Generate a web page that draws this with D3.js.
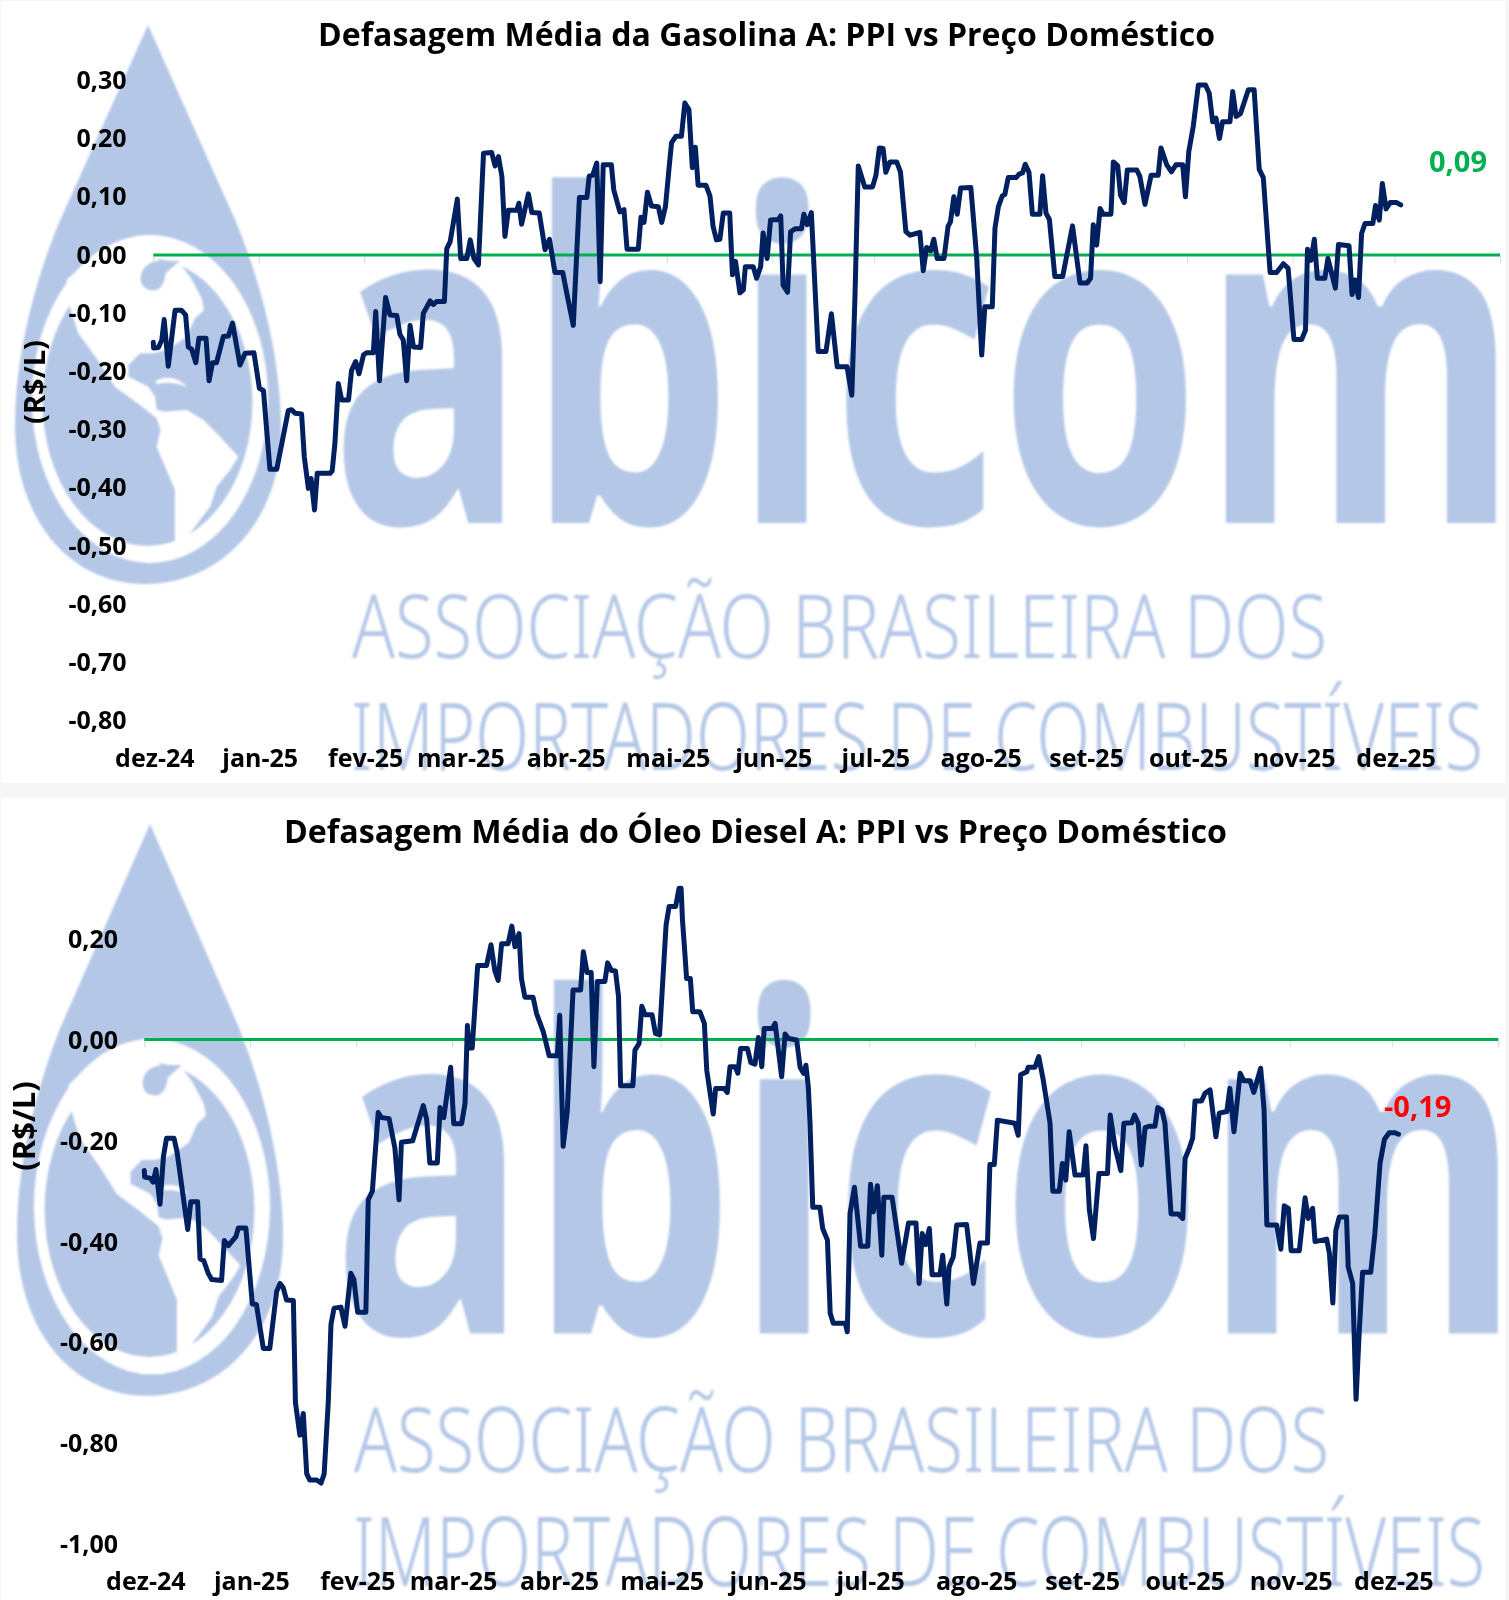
<!DOCTYPE html>
<html><head><meta charset="utf-8">
<script src="https://cdn.jsdelivr.net/npm/d3@7/dist/d3.min.js"></script>
<style>
html,body{margin:0;padding:0;background:#f6f6f6;}
svg{display:block;}
text{font-family:"Open Sans",sans-serif;font-weight:700;fill:#000;}
</style></head><body>
<svg id="c" width="1509" height="1600"></svg>
<script>
const monthLabels=["dez-24","jan-25","fev-25","mar-25","abr-25","mai-25","jun-25","jul-25","ago-25","set-25","out-25","nov-25","dez-25"];
const gasYTicks=[0.3,0.2,0.1,0,-0.1,-0.2,-0.3,-0.4,-0.5,-0.6,-0.7,-0.8];
const dieselYTicks=[0.2,0,-0.2,-0.4,-0.6,-0.8,-1.0];

// Days since 1 Dec 2024, and R$/L
const gasDays=[0,0.1,1.5,2.5,3.2,4.4,6.4,8.3,9.5,10.3,11.3,12.5,13.4,15.5,16.4,17.4,18.6,20.6,22.1,23.3,25.5,27,29.6,31.2,32.4,33.1,34.3,36.3,39.7,40.7,41.7,43.6,44.4,45.6,46.4,47.4,48.2,52,52.6,53.4,54.4,55.4,57.4,58.3,59.5,60.5,61.8,62.7,64.7,65.4,66.5,68.3,69.6,71.6,72.5,73.5,74.5,75.5,76.5,78.6,79.4,81.4,82.4,83.3,85.6,86.3,87.3,89.4,90.4,92.2,93.2,94.3,95.6,97.1,99.5,100.5,101.5,102.5,103.4,104.4,106.9,107.5,108.3,110.3,111.3,113.5,115.2,116.5,118.1,120.4,121.6,123.5,125.3,127.5,128.2,129.2,130.4,131.4,
132.3,134.7,135.4,137.2,138.4,139.3,142.6,143.4,144.3,145.3,146.5,148.5,149.5,150.6,151.7,152.4,153.7,155.3,156.3,157.5,158.5,159.4,160.2,162.5,163.7,164.6,165.6,166.6,167.6,169.5,170.3,171.2,172.5,173.5,174.1,176.4,177.4,178.6,179.3,180.5,181.5,183.8,184.5,185.2,186.5,187.4,188.7,190.6,191.3,192.3,193.5,195.5,197.8,199.4,201.1,204,205.4,206.3,207.3,209.2,211.5,212.5,213.5,214.6,215.4,216.6,218.6,219.7,221.3,222.5,225.4,226.4,227.4,228.6,229.5,230.5,232.5,233.7,234.4,235.4,236.4,237.4,240.4,242.1,243.6,244.5,246.7,247.5,248.5,249.6,250.4,251.4,253.7,254.6,255.6,256.4,257.5,258.5,260.7,261.5,262.5,263.5,
265.1,267.4,270.3,272.5,274.6,275.6,276.4,277.4,278.4,279.3,281.6,282.3,283.6,284.4,285.5,286.4,289.2,290.1,291.6,293.4,295.5,296.3,298,299.4,300.7,302.7,303.5,304.5,305.8,307.3,309.4,310.5,311.5,312.5,313.5,314.4,316.6,317.4,318.4,319.7,322,323.7,325.2,326.4,328.4,330.3,332.3,333.7,335.4,337.7,338.8,339.4,340.4,341.4,342.3,344.5,345.4,347.6,348.5,351.6,352.5,353.4,354.4,355.3,356.3,358.6,359.4,360.5,361.4,362.5,363.7,365.6,366.8];
const gasValues=[-0.15,-0.16,-0.159,-0.146,-0.111,-0.191,-0.095,-0.095,-0.103,-0.158,-0.162,-0.185,-0.143,-0.143,-0.216,-0.185,-0.185,-0.14,-0.139,-0.117,-0.189,-0.169,-0.168,-0.229,-0.233,-0.284,-0.368,-0.368,-0.267,-0.266,-0.272,-0.273,-0.347,-0.401,-0.384,-0.438,-0.375,-0.375,-0.371,-0.324,-0.221,-0.249,-0.249,-0.198,-0.183,-0.204,-0.172,-0.168,-0.168,-0.097,-0.216,-0.073,-0.103,-0.104,-0.136,-0.146,-0.216,-0.121,-0.158,-0.159,-0.1,-0.079,-0.085,-0.08,-0.08,0.011,0.023,0.096,-0.006,-0.006,0.026,-0.006,-0.017,0.175,0.176,0.153,0.169,0.135,0.032,0.077,0.077,0.089,0.053,0.105,0.073,0.072,0.009,0.027,-0.03,-0.03,-0.066,-0.121,0.099,0.099,0.136,0.137,0.158,-0.046,
0.155,0.155,0.112,0.074,0.078,0.01,0.01,0.065,0.056,0.108,0.084,0.083,0.056,0.083,0.152,0.193,0.204,0.204,0.261,0.25,0.15,0.185,0.12,0.12,0.101,0.049,0.026,0.027,0.072,0.072,-0.034,-0.011,-0.065,-0.06,-0.02,-0.02,-0.04,-0.02,0.038,-0.006,0.06,0.061,0.067,-0.052,-0.064,0.04,0.045,0.045,0.07,0.052,0.073,-0.166,-0.166,-0.101,-0.192,-0.192,-0.241,-0.077,0.153,0.117,0.117,0.137,0.184,0.183,0.142,0.16,0.16,0.143,0.04,0.034,0.039,-0.027,0.013,0.007,0.027,-0.006,-0.006,0.049,0.057,0.1,0.07,0.115,0.116,-0.003,-0.172,-0.089,-0.089,0.046,0.083,0.101,0.104,0.133,0.133,0.139,0.141,0.156,0.142,0.07,0.07,0.136,0.072,0.061,
-0.037,-0.037,0.05,-0.048,-0.048,-0.04,0.052,0.017,0.08,0.07,0.07,0.16,0.153,0.103,0.09,0.146,0.146,0.135,0.087,0.137,0.137,0.184,0.155,0.143,0.155,0.155,0.1,0.178,0.221,0.292,0.292,0.278,0.229,0.235,0.2,0.229,0.229,0.281,0.238,0.243,0.284,0.284,0.147,0.133,-0.03,-0.03,-0.015,-0.023,-0.145,-0.145,-0.129,0.01,-0.009,0.027,-0.04,-0.04,-0.006,-0.057,0.018,0.016,-0.068,-0.043,-0.073,0.037,0.054,0.054,0.085,0.06,0.123,0.079,0.09,0.09,0.086];

const dieselDays=[0,0.1,1.7,2.6,3.4,4.6,5.6,6.5,8.7,9.6,12.7,13.6,15.6,16.3,17.4,18.7,19.7,22.6,23.4,24.6,25.8,26.8,27.5,29.7,31.6,32.8,34.8,36.7,38.7,39.7,40.6,41.6,43.6,44.2,45.5,46.5,47.5,48.4,50.4,51.7,52.6,53.8,54.6,55.5,57.5,58.7,60.4,61.3,62.4,64.8,65.5,66.7,68.4,69.4,71.6,73.3,74.5,75.2,78.5,81.6,82.6,83.5,85.7,86.5,87.6,89.6,90.5,92.8,93.8,94.5,95,95.9,97.5,100.1,101.4,102.5,103.5,104.5,106.4,107.5,108.4,109.6,110.3,111.3,113.7,114.7,116.7,118.4,120.8,121.5,122.5,123.7,125.4,127.6,128.4,129.5,130.7,131.5,132.5,134.7,135.5,136.6,
137.8,138.7,139.3,142.9,143.5,144.7,145.5,146.5,148.5,149.5,150.7,152.6,153.5,155.4,156.4,157,157.4,158.1,158.6,159.7,160.4,162.5,163.8,164.5,166.4,167.1,169.6,170.5,171.3,172.8,173.6,174.4,176.4,177.4,178.6,179.6,180.6,181.3,183.7,184.5,186.4,187.4,188.4,190.8,191.8,192.8,193.5,194.2,194.7,195.5,197.6,198.4,199.8,200.6,201.5,205,205.6,206.4,207.7,209.5,211.6,212.4,213.2,214.4,215.7,216.3,218.7,221.5,223.5,225.7,226.6,227.5,228.5,229.6,230.4,232.7,233.5,234.7,235.4,236.6,237.6,240.5,242.5,244.4,246.6,247.3,248.6,249.5,254.6,255.6,256.3,258.1,258.5,260.5,261.6,262.9,264.9,
265.7,267.6,268.5,269.5,270.5,272.2,274.6,275.4,276.4,277.6,279.2,281.7,282.5,283.9,285.6,286.5,288.8,289.6,290.7,291.6,292.7,294.1,295.6,296.4,297.6,298.5,300.3,302.4,303.7,304.4,305.6,306.6,307.3,309.2,310.2,311.7,313.4,314.4,316.6,317.5,318.7,320.5,321.6,323.4,324.5,326.5,327.5,328.3,331.2,332.4,333.4,334.6,335.4,337.8,339.5,340.4,341.7,342.4,345.8,346.6,347.6,348.5,349.5,351.6,352.1,353.4,354.4,355.3,356.3,358.7,359.9,361.4,362.7,364.1,365.8,366.8];
const dieselValues=[-0.26,-0.273,-0.275,-0.283,-0.258,-0.327,-0.232,-0.196,-0.196,-0.224,-0.377,-0.322,-0.322,-0.435,-0.439,-0.464,-0.476,-0.478,-0.399,-0.409,-0.399,-0.391,-0.374,-0.374,-0.525,-0.526,-0.613,-0.613,-0.5,-0.484,-0.492,-0.517,-0.518,-0.72,-0.785,-0.742,-0.862,-0.874,-0.874,-0.88,-0.862,-0.72,-0.565,-0.533,-0.531,-0.569,-0.464,-0.476,-0.541,-0.541,-0.318,-0.301,-0.145,-0.155,-0.157,-0.216,-0.318,-0.204,-0.201,-0.131,-0.159,-0.245,-0.245,-0.135,-0.155,-0.055,-0.167,-0.167,-0.127,0.028,-0.017,-0.017,0.147,0.147,0.188,0.137,0.117,0.19,0.19,0.225,0.184,0.21,0.121,0.084,0.084,0.052,0.015,-0.032,-0.032,0.048,-0.212,-0.143,0.098,0.098,0.174,0.133,0.133,-0.054,0.115,0.115,0.152,0.137,
0.136,0.085,-0.092,-0.092,-0.021,-0.008,0.066,0.049,0.049,0.012,0.009,0.227,0.264,0.264,0.3,0.3,0.237,0.171,0.121,0.121,0.055,0.055,0.032,-0.061,-0.148,-0.097,-0.097,-0.105,-0.054,-0.054,-0.067,-0.018,-0.018,-0.046,-0.049,0.004,-0.054,0.022,0.022,0.032,-0.074,0.011,0.002,-0.001,-0.055,-0.067,-0.051,-0.094,-0.166,-0.333,-0.333,-0.375,-0.398,-0.543,-0.563,-0.563,-0.58,-0.345,-0.293,-0.41,-0.41,-0.287,-0.342,-0.29,-0.428,-0.313,-0.313,-0.444,-0.364,-0.364,-0.484,-0.385,-0.407,-0.375,-0.467,-0.467,-0.428,-0.525,-0.451,-0.431,-0.368,-0.367,-0.484,-0.404,-0.404,-0.248,-0.248,-0.16,-0.166,-0.19,-0.07,-0.064,-0.055,-0.055,-0.034,-0.08,-0.166,
-0.301,-0.301,-0.246,-0.279,-0.183,-0.269,-0.269,-0.211,-0.338,-0.395,-0.266,-0.266,-0.15,-0.213,-0.26,-0.166,-0.165,-0.15,-0.166,-0.249,-0.175,-0.172,-0.172,-0.135,-0.14,-0.166,-0.346,-0.346,-0.355,-0.236,-0.216,-0.196,-0.122,-0.122,-0.107,-0.1,-0.193,-0.146,-0.143,-0.097,-0.183,-0.067,-0.082,-0.082,-0.105,-0.057,-0.14,-0.368,-0.368,-0.416,-0.33,-0.335,-0.419,-0.419,-0.314,-0.355,-0.335,-0.401,-0.396,-0.424,-0.523,-0.378,-0.352,-0.352,-0.451,-0.484,-0.714,-0.583,-0.462,-0.462,-0.385,-0.246,-0.198,-0.185,-0.185,-0.188];

const start=Date.UTC(2024,11,1), end=Date.UTC(2026,0,1);
const toDate=d=>new Date(start+d*864e5);
const monthTicks=d3.utcMonth.range(new Date(start),new Date(end+1));
const loc=d3.formatLocale({decimal:",",thousands:".",grouping:[3],currency:["R$",""],minus:"-"});
const fmt=loc.format(".2f");

const svg=d3.select("#c");
const BLUE="#b4c7e7", NAVY="#002060", GREEN="#00b050";
const defs=svg.append("defs");
defs.append("filter").attr("id","soft").append("feGaussianBlur").attr("stdDeviation",0.9);
[["p1",1,1,1504,782],["p2",1,798,1504,802]].forEach(([id,x,y,w,h])=>{
  defs.append("clipPath").attr("id",id).append("rect").attr("x",x).attr("y",y).attr("width",w).attr("height",h);
});

function watermark(g){
  g.attr("filter","url(#soft)");
  g.append("path").attr("fill",BLUE).attr("d","M148,25 L236,222 C262,285 281,360 281,430 C281,520 222,584 145,584 C70,584 15,520 15,425 C15,360 32,290 58,225 Z");
  g.append("ellipse").attr("cx",150).attr("cy",399).attr("rx",118).attr("ry",164).attr("fill","#fff");
  g.append("ellipse").attr("cx",147.5).attr("cy",402).attr("rx",105).attr("ry",144).attr("fill",BLUE);
  const m=g.append("g").attr("transform","translate(0,230) scale(0.3333)");
  m.append("path").attr("fill","#fff").attr("d","M205,215 L235,310 L290,385 L345,470 L420,525 L470,565 L482,600 L470,650 L500,720 L525,780 L525,950 L570,910 L630,830 L650,770 L690,720 L715,680 L650,610 L610,570 L560,540 L495,545 L470,540 L465,500 L445,470 L385,440 L385,405 L420,370 L460,370 L500,360 L560,320 L585,265 L612,240 L605,205 L570,140 L535,95 L495,100 L420,60 L300,60 L200,150 Z");
  m.append("path").attr("fill",BLUE).attr("d","M422,140 C425,105 460,88 495,92 L540,92 L497,130 C495,165 475,188 450,180 C430,176 420,160 422,140 Z");
  m.append("path").attr("fill","#fff").attr("d","M468,452 Q520,428 562,472 Q515,452 468,462 Z");
  g.append("text").text("abicom").attr("x",330).attr("y",523).attr("font-size",455).attr("textLength",1190).attr("lengthAdjust","spacingAndGlyphs").style("fill",BLUE);
  g.append("text").text("ASSOCIAÇÃO BRASILEIRA DOS").attr("x",352).attr("y",658).attr("font-size",88).attr("textLength",975).attr("lengthAdjust","spacingAndGlyphs").style("fill",BLUE).style("font-family","Noto Sans").style("font-weight",300);
  g.append("text").text("IMPORTADORES DE COMBUSTÍVEIS").attr("x",351).attr("y",770).attr("font-size",93).attr("textLength",1132).attr("lengthAdjust","spacingAndGlyphs").style("fill",BLUE).style("font-family","Noto Sans").style("font-weight",300);
}

function chart(o){
  const root=svg.append("g");
  root.append("rect").attr("x",1).attr("y",o.clip==="p1"?1:798).attr("width",1504).attr("height",o.clip==="p1"?782:802).attr("fill","#fff");
  const wmClip=root.append("g").attr("clip-path",`url(#${o.clip})`);
  watermark(wmClip.append("g").attr("transform",o.wm));
  const x=d3.scaleUtc().domain([new Date(start),new Date(end)]).range(o.xr);
  const y=d3.scaleLinear().domain(o.yd).range(o.yr);
  const gt=root.append("g").attr("transform",`translate(0,${y(0)})`)
    .call(d3.axisBottom(x).tickValues(monthTicks).tickSize(8).tickFormat(""));
  gt.select(".domain").remove();
  gt.selectAll("line").attr("stroke","#d9d9d9").attr("stroke-width",1);
  const gx=root.append("g").attr("transform",`translate(${o.labelDx},${o.labelY})`)
    .call(d3.axisBottom(x).tickValues(monthTicks.slice(0,monthLabels.length)).tickSize(0).tickPadding(0).tickFormat((d,i)=>monthLabels[i]));
  gx.select(".domain").remove();
  gx.selectAll("text").attr("dy",0).attr("y",0).style("font-size","25px").style("font-family",'"Open Sans",sans-serif').style("font-weight",700).attr("fill","#000");
  const gy=root.append("g").attr("transform",`translate(${o.yLabelX},${o.yLabelDy})`)
    .call(d3.axisLeft(y).tickValues(o.yt).tickSize(0).tickPadding(0).tickFormat(fmt));
  gy.select(".domain").remove();
  gy.selectAll("text").style("font-size","25px").style("font-family",'"Open Sans",sans-serif').style("font-weight",700).attr("fill","#000");
  root.append("line").attr("x1",x.range()[0]).attr("x2",x.range()[1]).attr("y1",y(0)).attr("y2",y(0)).attr("stroke",GREEN).attr("stroke-width",3);
  const line=d3.line().x(d=>x(toDate(d))).y((d,i)=>y(o.values[i]));
  root.append("path").attr("d",line(o.days)).attr("fill","none").attr("stroke",NAVY).attr("stroke-width",5).attr("stroke-linejoin","round").attr("stroke-linecap","round");
  root.append("text").text(o.title).attr("x",o.titleX).attr("y",o.titleY).attr("font-size",33).attr("textLength",o.titleW).attr("lengthAdjust","spacingAndGlyphs");
  root.append("text").text("(R$/L)").attr("transform",`translate(${o.unit[0]},${o.unit[1]}) rotate(-90)`).attr("text-anchor","middle").attr("font-size",o.unit[2]);
  root.append("text").text(o.last).attr("x",o.lastPos[0]).attr("y",o.lastPos[1]).attr("font-size",29).style("fill",o.lastColor);
}
chart({clip:"p1",wm:"translate(0,0)",xr:[153.3,1500],yd:[0,-0.8],yr:[255,720.6],yt:gasYTicks,days:gasDays,values:gasValues,
  labelY:767,labelDx:1,yLabelX:126.5,yLabelDy:0,title:"Defasagem Média da Gasolina A: PPI vs Preço Doméstico",titleX:318,titleY:46,titleW:897,unit:[45,382,29],
  last:"0,09",lastPos:[1429,172],lastColor:GREEN});
chart({clip:"p2",wm:"translate(2,798.4) scale(1,1.023)",xr:[144.3,1498.3],yd:[0,-1],yr:[1039.5,1543.5],yt:dieselYTicks,days:dieselDays,values:dieselValues,
  labelY:1590,labelDx:1,yLabelX:118,yLabelDy:1,title:"Defasagem Média do Óleo Diesel A: PPI vs Preço Doméstico",titleX:284,titleY:843,titleW:943,unit:[35,1126,31],
  last:"-0,19",lastPos:[1384,1117],lastColor:"#ff0000"});
</script>
</body></html>
